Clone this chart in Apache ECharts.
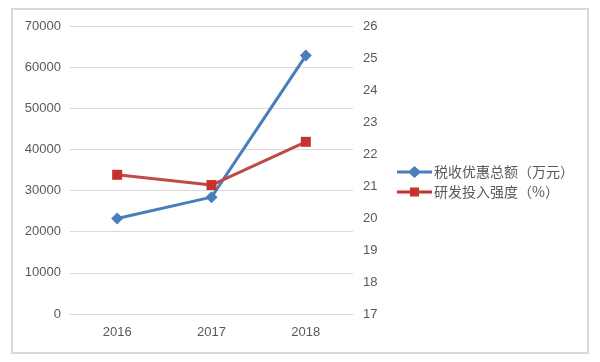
<!DOCTYPE html>
<html><head><meta charset="utf-8">
<script src="https://cdn.jsdelivr.net/npm/echarts@6/dist/echarts.min.js"></script>
<style>html,body{margin:0;padding:0;background:#fff}#c{width:600px;height:362px}</style>
</head><body><div id="c"></div>
<script>
var categories = ['2016', '2017', '2018'];
var taxRelief = [23200, 28400, 62800];
var rdIntensity = [21.35, 21.03, 22.38];
var seriesNames = ['税收优惠总额（万元）', '研发投入强度（%）'];

var chart = echarts.init(document.getElementById('c'));
var txt = '#595959';
chart.setOption({
  animation: false,
  backgroundColor: '#fff',
  graphic: [{type:'rect', shape:{x:12,y:9,width:576,height:344}, style:{fill:'none', stroke:'#d9d9d9', lineWidth:2}, silent:true}],
  grid: {left: 70, right: 247, top: 26, bottom: 48},
  legend: {
    orient: 'vertical', left: 392, top: 160, itemGap: 6,
    itemWidth: 35, itemHeight: 12,
    textStyle: {color: txt, fontSize: 14, fontFamily: 'Noto Sans CJK SC', padding: [0,0,0,-3]},
    data: [{name: seriesNames[0], icon: 'path://M0,4.5L12.5,4.5L17.5,0L22.5,4.5L35,4.5L35,7.5L22.5,7.5L17.5,12L12.5,7.5L0,7.5Z'},
           {name: seriesNames[1], icon: 'path://M0,4.5L13,4.5L13,1.5L22,1.5L22,4.5L35,4.5L35,7.5L22,7.5L22,10.5L13,10.5L13,7.5L0,7.5Z'}]
  },
  xAxis: {
    type: 'category', data: categories,
    axisLine: {lineStyle: {color: '#d9d9d9'}}, axisTick: {show: false},
    axisLabel: {color: txt, fontSize: 13, margin: 12, fontFamily: 'Liberation Sans'}
  },
  yAxis: [{
    type: 'value', min: 0, max: 70000, interval: 10000,
    axisLine: {show: false}, axisTick: {show: false},
    splitLine: {lineStyle: {color: '#d9d9d9'}},
    axisLabel: {color: txt, fontSize: 13, margin: 9, fontFamily: 'Liberation Sans', formatter: function(v){return String(v);}}
  }, {
    type: 'value', min: 17, max: 26, interval: 1, position: 'right',
    axisLine: {show: false}, axisTick: {show: false}, splitLine: {show: false},
    axisLabel: {color: txt, fontSize: 13, margin: 10, fontFamily: 'Liberation Sans'}
  }],
  series: [{
    name: seriesNames[0], type: 'line', data: taxRelief, yAxisIndex: 0,
    symbol: 'diamond', symbolSize: 12,
    itemStyle: {color: '#4a7ebb'}, lineStyle: {width: 3, color: '#4a7ebb'}
  }, {
    name: seriesNames[1], type: 'line', data: rdIntensity, yAxisIndex: 1,
    symbol: 'rect', symbolSize: 10,
    itemStyle: {color: '#c8312c'}, lineStyle: {width: 3, color: '#be4b48'}
  }]
});
</script></body></html>
